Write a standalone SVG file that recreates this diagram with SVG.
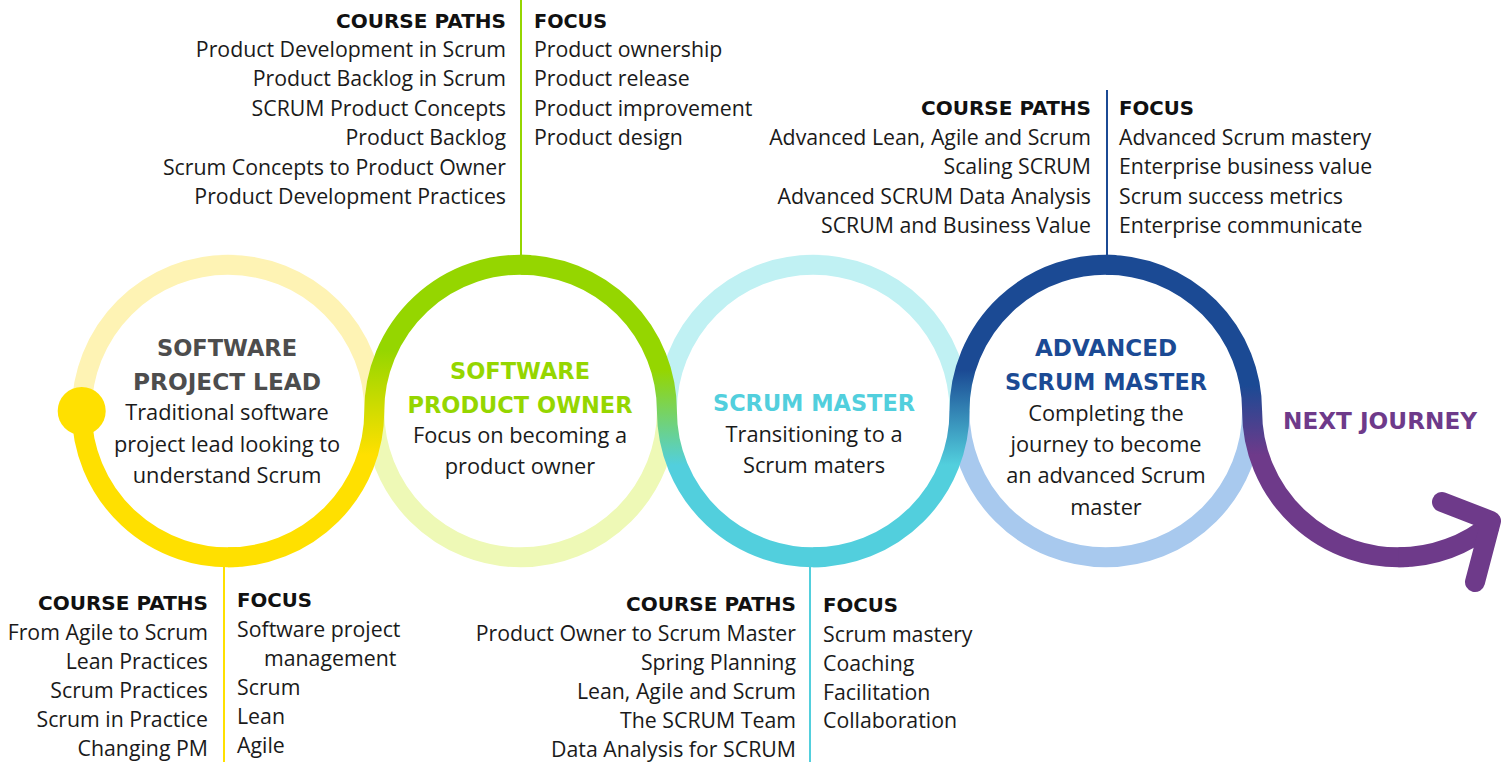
<svg xmlns="http://www.w3.org/2000/svg" width="1504" height="762" viewBox="0 0 1504 762">
<style>
.ring{fill:none;stroke-width:20}
.trk{fill:none;stroke-width:20;stroke-linecap:butt}
.hd{font-family:"DejaVu Sans","Liberation Sans",sans-serif;font-weight:bold;font-size:19px;fill:#111}
.li{font-family:"Open Sans","Liberation Sans",sans-serif;font-size:21.3px;fill:#1a1a1a}
.ttl{font-family:"DejaVu Sans","Liberation Sans",sans-serif;font-weight:bold;font-size:23.5px;text-anchor:middle}
.bd{font-family:"Open Sans","Liberation Sans",sans-serif;font-size:21.8px;fill:#1a1a1a;text-anchor:middle}
.end{text-anchor:end}
.lead{stroke-width:2;fill:none}
</style>
<defs>
<linearGradient id="g12" gradientUnits="userSpaceOnUse" x1="0" y1="350" x2="0" y2="455"><stop offset="0" stop-color="#95D600"/><stop offset="1" stop-color="#FFE000"/></linearGradient>
<linearGradient id="g23" gradientUnits="userSpaceOnUse" x1="0" y1="370" x2="0" y2="465"><stop offset="0" stop-color="#95D600"/><stop offset="1" stop-color="#52CFDD"/></linearGradient>
<linearGradient id="g34" gradientUnits="userSpaceOnUse" x1="0" y1="370" x2="0" y2="465"><stop offset="0" stop-color="#1B4A94"/><stop offset="1" stop-color="#52CFDD"/></linearGradient>
<linearGradient id="g45" gradientUnits="userSpaceOnUse" x1="0" y1="385" x2="0" y2="455"><stop offset="0" stop-color="#1B4A94"/><stop offset="1" stop-color="#6E3A8A"/></linearGradient>
</defs>
<rect width="1504" height="762" fill="#fff"/>

<g id="node-project-lead">
<path class="ring" stroke="#FEF3B4" d="M81.7 411 A146.3 146.3 0 0 1 374.3 411"/>
<text class="ttl" fill="#4D4D4D" x="227" y="355.5" textLength="140" lengthAdjust="spacingAndGlyphs">SOFTWARE</text>
<text class="ttl" fill="#4D4D4D" x="227" y="389.5" textLength="188" lengthAdjust="spacingAndGlyphs">PROJECT LEAD</text>
<text class="bd" x="227" y="420">Traditional software</text>
<text class="bd" x="227" y="452">project lead looking to</text>
<text class="bd" x="227" y="483">understand Scrum</text>
</g>

<g id="node-product-owner">
<path class="ring" stroke="#EEF9B6" d="M374.3 411 A146.3 146.3 0 0 0 666.9 411"/>
<text class="ttl" fill="#95D600" x="520" y="378.5" textLength="140" lengthAdjust="spacingAndGlyphs">SOFTWARE</text>
<text class="ttl" fill="#95D600" x="520" y="412.5" textLength="225" lengthAdjust="spacingAndGlyphs">PRODUCT OWNER</text>
<text class="bd" x="520" y="443">Focus on becoming a</text>
<text class="bd" x="520" y="474">product owner</text>
</g>

<g id="node-scrum-master">
<path class="ring" stroke="#C0F1F3" d="M666.9 411 A146.3 146.3 0 0 1 959.5 411"/>
<text class="ttl" fill="#52CFDD" x="814" y="410.5" textLength="202" lengthAdjust="spacingAndGlyphs">SCRUM MASTER</text>
<text class="bd" x="814" y="442">Transitioning to a</text>
<text class="bd" x="814" y="473">Scrum maters</text>
</g>

<g id="node-advanced-scrum-master">
<path class="ring" stroke="#A8C9EE" d="M959.5 411 A146.3 146.3 0 0 0 1252.1 411"/>
<text class="ttl" fill="#1B4A94" x="1106" y="355.5" textLength="142" lengthAdjust="spacingAndGlyphs">ADVANCED</text>
<text class="ttl" fill="#1B4A94" x="1106" y="389.5" textLength="202" lengthAdjust="spacingAndGlyphs">SCRUM MASTER</text>
<text class="bd" x="1106" y="421">Completing the</text>
<text class="bd" x="1106" y="452">journey to become</text>
<text class="bd" x="1106" y="483">an advanced Scrum</text>
<text class="bd" x="1106" y="515">master</text>
</g>

<g id="node-next-journey">
<text class="ttl" fill="#6E3A8A" x="1380" y="429" textLength="194" lengthAdjust="spacingAndGlyphs">NEXT JOURNEY</text>
</g>

<g id="track">
<path class="trk" stroke="#FFE000" d="M81.7 411 A146.3 146.3 0 0 0 238 556.96"/>
<path class="trk" stroke="url(#g12)" d="M228 557.3 A146.3 146.3 0 0 0 374.3 411 A146.3 146.3 0 0 1 530.6 265.04"/>
<path class="trk" stroke="url(#g23)" d="M520.6 264.7 A146.3 146.3 0 0 1 666.9 411 A146.3 146.3 0 0 0 823.2 556.96"/>
<path class="trk" stroke="url(#g34)" d="M813.2 557.3 A146.3 146.3 0 0 0 959.5 411 A146.3 146.3 0 0 1 1115.8 265.04"/>
<path class="trk" stroke="url(#g45)" d="M1105.8 264.7 A146.3 146.3 0 0 1 1252.1 411 A146.3 146.3 0 0 0 1408.4 556.96"/>
<path class="trk" stroke="#6E3A8A" d="M1398.4 557.3 A146.3 146.3 0 0 0 1492.4 523.1"/>
<path fill="none" stroke="#6E3A8A" stroke-width="20" stroke-linecap="round" stroke-linejoin="round" d="M1442 502 L1491 521 L1475 582"/>
<circle cx="81.7" cy="411" r="24" fill="#FFE000"/>
</g>

<g id="connectors">
<line class="lead" stroke="#FFE000" x1="224" y1="566" x2="224" y2="762"/>
<line class="lead" stroke="#95D600" x1="521" y1="0" x2="521" y2="256"/>
<line class="lead" stroke="#52CFDD" x1="810" y1="566" x2="810" y2="762"/>
<line class="lead" stroke="#1B4A94" x1="1107" y1="90" x2="1107" y2="256"/>
</g>

<g id="info-product-owner">
<text class="hd end" x="506" y="28" textLength="170" lengthAdjust="spacingAndGlyphs">COURSE PATHS</text>
<text class="li end" x="506" y="57">Product Development in Scrum</text>
<text class="li end" x="506" y="86">Product Backlog in Scrum</text>
<text class="li end" x="506" y="116">SCRUM Product Concepts</text>
<text class="li end" x="506" y="145">Product Backlog</text>
<text class="li end" x="506" y="175">Scrum Concepts to Product Owner</text>
<text class="li end" x="506" y="204">Product Development Practices</text>
<text class="hd" x="534" y="28" textLength="73" lengthAdjust="spacingAndGlyphs">FOCUS</text>
<text class="li" x="534" y="57">Product ownership</text>
<text class="li" x="534" y="86">Product release</text>
<text class="li" x="534" y="116">Product improvement</text>
<text class="li" x="534" y="145">Product design</text>
</g>

<g id="info-advanced">
<text class="hd end" x="1091" y="115" textLength="170" lengthAdjust="spacingAndGlyphs">COURSE PATHS</text>
<text class="li end" x="1091" y="145">Advanced Lean, Agile and Scrum</text>
<text class="li end" x="1091" y="174">Scaling SCRUM</text>
<text class="li end" x="1091" y="204">Advanced SCRUM Data Analysis</text>
<text class="li end" x="1091" y="233">SCRUM and Business Value</text>
<text class="hd" x="1119" y="115" textLength="75" lengthAdjust="spacingAndGlyphs">FOCUS</text>
<text class="li" x="1119" y="145">Advanced Scrum mastery</text>
<text class="li" x="1119" y="174">Enterprise business value</text>
<text class="li" x="1119" y="204">Scrum success metrics</text>
<text class="li" x="1119" y="233">Enterprise communicate</text>
</g>

<g id="info-project-lead">
<text class="hd end" x="208" y="610" textLength="170" lengthAdjust="spacingAndGlyphs">COURSE PATHS</text>
<text class="li end" x="208" y="640">From Agile to Scrum</text>
<text class="li end" x="208" y="669">Lean Practices</text>
<text class="li end" x="208" y="698">Scrum Practices</text>
<text class="li end" x="208" y="727">Scrum in Practice</text>
<text class="li end" x="208" y="756">Changing PM</text>
<text class="hd" x="237" y="607" textLength="75" lengthAdjust="spacingAndGlyphs">FOCUS</text>
<text class="li" x="237" y="637">Software project</text>
<text class="li" x="264" y="666">management</text>
<text class="li" x="237" y="695">Scrum</text>
<text class="li" x="237" y="724">Lean</text>
<text class="li" x="237" y="753">Agile</text>
</g>

<g id="info-scrum-master">
<text class="hd end" x="796" y="611" textLength="170" lengthAdjust="spacingAndGlyphs">COURSE PATHS</text>
<text class="li end" x="796" y="641">Product Owner to Scrum Master</text>
<text class="li end" x="796" y="670">Spring Planning</text>
<text class="li end" x="796" y="699">Lean, Agile and Scrum</text>
<text class="li end" x="796" y="728">The SCRUM Team</text>
<text class="li end" x="796" y="757">Data Analysis for SCRUM</text>
<text class="hd" x="823" y="612" textLength="75" lengthAdjust="spacingAndGlyphs">FOCUS</text>
<text class="li" x="823" y="642">Scrum mastery</text>
<text class="li" x="823" y="671">Coaching</text>
<text class="li" x="823" y="700">Facilitation</text>
<text class="li" x="823" y="728">Collaboration</text>
</g>
</svg>
